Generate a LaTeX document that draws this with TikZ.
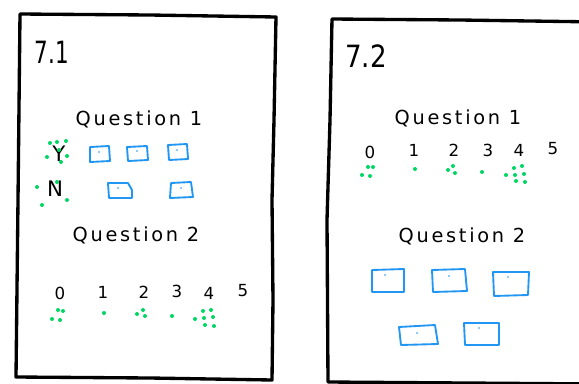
\documentclass[tikz,border=0pt]{standalone}
\usepackage{fontspec}
\usepackage{graphicx}
\newfontfamily\hand[LetterSpace=14]{DejaVu Sans}
\newfontfamily\handnum{DejaVu Sans}
\begin{document}
\begin{tikzpicture}[x=0.75pt,y=-0.75pt,
  frame/.style={line width=2.5pt,line join=round,line cap=round,black},
  bluebox/.style={draw={rgb,255:red,33;green,150;blue,243},line width=1.4pt,line join=round},
  bdot/.style={fill={rgb,255:red,33;green,150;blue,243}},
  gdot/.style={fill={rgb,255:red,0;green,214;blue,100}},
  title/.style={font=\handnum\fontsize{23}{25}\selectfont,inner sep=0pt},
  qlabel/.style={font=\hand\fontsize{14.5}{16}\selectfont,inner sep=0pt},
  num/.style={font=\handnum\fontsize{12.5}{14}\selectfont,inner sep=0pt},
  yn/.style={font=\handnum\fontsize{16}{18}\selectfont,inner sep=0pt}]
\useasboundingbox (0,0) rectangle (579,383);
% panels
\draw[frame] (20,14) -- (150,15) -- (276,17) -- (274,120) -- (272,200) -- (273,300) -- (272,380) -- (150,378) -- (16,377) -- (18,200) -- cycle;
\draw[frame] (600,22) -- (460,20) -- (332,19) -- (330,120) -- (327,220) -- (328,382) -- (600,384);
% texts panel 1
\node[title] (t71) at (52,52) {\scalebox{0.7}[1]{7.1}};
\node[qlabel] (q11) at (139,119) {Question 1};
\node[yn] (Y) at (59,154) {Y};
\node[yn] (N) at (55,189) {N};
\node[qlabel] (q12) at (136,235) {Question 2};
\node[num] (a0) at (60,293) {0};
\node[num] (a1) at (103,292) {1};
\node[num] (a2) at (144,292) {2};
\node[num] (a3) at (177,291) {3};
\node[num] (a4) at (209,293) {4};
\node[num] (a5) at (243,291) {5};
% texts panel 2
\node[title] (t72) at (366,56) {\scalebox{0.85}[1]{7.2}};
\node[qlabel] (q21) at (458,118) {Question 1};
\node[num] (b0) at (370,152) {0};
\node[num] (b1) at (414,150) {1};
\node[num] (b2) at (454,150) {2};
\node[num] (b3) at (488,150) {3};
\node[num] (b4) at (519,150) {4};
\node[num] (b5) at (553,149) {5};
\node[qlabel] (q22) at (462,236) {Question 2};
% blue boxes panel 1
\draw[bluebox] (90,147) -- (109,146) -- (110,161) -- (90,162) -- cycle;
\draw[bluebox] (127,147) -- (147,146) -- (148,160) -- (128,161) -- cycle;
\draw[bluebox] (168,145) -- (187,144) -- (188,159) -- (169,160) -- cycle;
\draw[bluebox] (108,183) -- (128,183) -- (132,190) -- (132,198) -- (109,198) -- cycle;
\draw[bluebox] (171,183) -- (191,182) -- (193,197) -- (170,198) -- cycle;
% blue boxes panel 2
\draw[bluebox] (372,270) -- (404,269) -- (404,292) -- (372,292) -- cycle;
\draw[bluebox] (432,270) -- (465,269) -- (467,291) -- (433,292) -- cycle;
\draw[bluebox] (493,272) -- (529,272) -- (528,295) -- (494,296) -- cycle;
\draw[bluebox] (399,327) -- (435,325) -- (438,344) -- (401,345) -- cycle;
\draw[bluebox] (464,323) -- (499,323) -- (499,345) -- (465,345) -- cycle;
% small dots in boxes
\foreach \p in {(99,152),(137,151),(177,150),(118,188),(181,188),(385,275),(449,276),(508,277),(417,333),(479,328)}
  \fill[bdot] \p circle (0.8);
% green dots Y
\foreach \p in {(50,143),(57,142),(66,141),(47,157),(67,156),(61,162),(59,150)}
  \fill[gdot] \p circle (2);
% green dots N
\foreach \p in {(37,187),(57,182),(42,205),(67,200)}
  \fill[gdot] \p circle (2);
% green dots panel 1 Q2
\foreach \p in {(58,310),(63,311),(52,319),(60,320),(104,313),(137,314),(143,310),(145,316),(172,316),(203,311),(211,310),(195,319),(204,318),(213,317),(205,325),(214,326)}
  \fill[gdot] \p circle (2);
% green dots panel 2 Q1
\foreach \p in {(368,167),(373,167),(362,175),(370,176),(415,169),(448,170),(453,166),(455,173),(482,172),(514,168),(522,166),(506,175),(515,175),(524,174),(516,181),(525,182)}
  \fill[gdot] \p circle (2);
\end{tikzpicture}
\end{document}
